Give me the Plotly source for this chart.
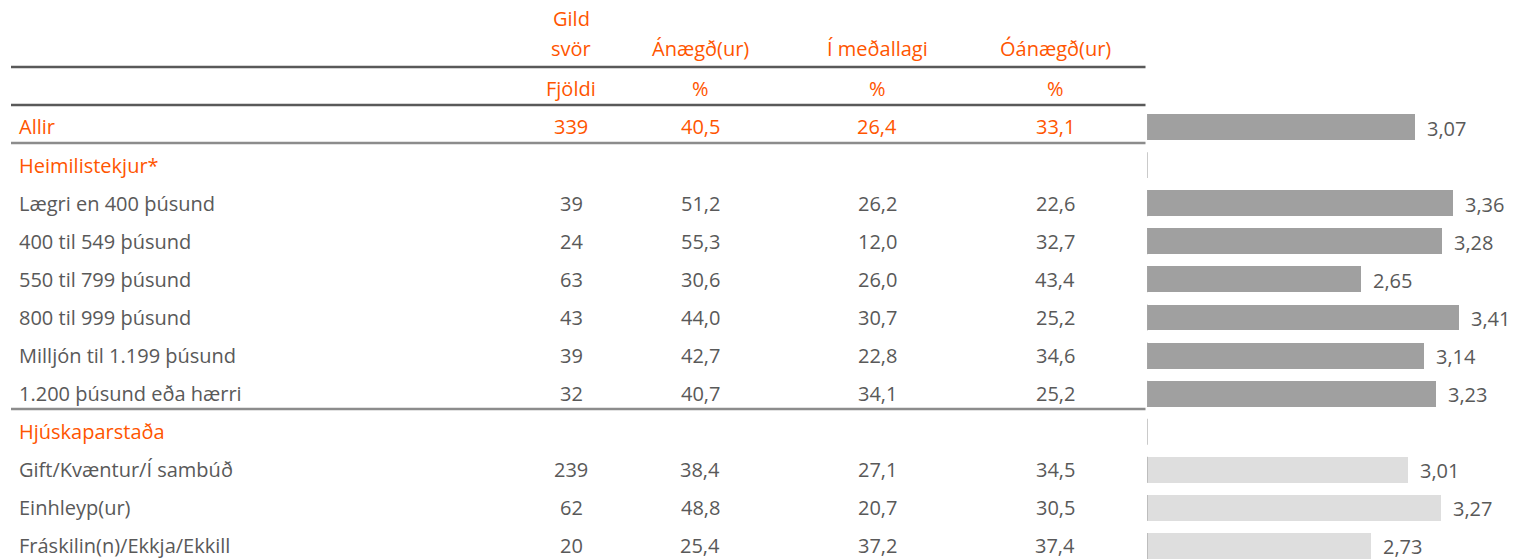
import plotly.graph_objects as go

# ---------------- data ----------------
row_labels = ["Allir", "Heimilistekjur*", "Lægri en 400 þúsund", "400 til 549 þúsund",
              "550 til 799 þúsund", "800 til 999 þúsund", "Milljón til 1.199 þúsund",
              "1.200 þúsund eða hærri", "Hjúskaparstaða", "Gift/Kvæntur/Í sambúð",
              "Einhleyp(ur)", "Fráskilin(n)/Ekkja/Ekkill"]
row_kind = ["total", "group", "item", "item", "item", "item", "item", "item",
            "group", "item2", "item2", "item2"]
fjoldi = [339, None, 39, 24, 63, 43, 39, 32, None, 239, 62, 20]
anaegd = [40.5, None, 51.2, 55.3, 30.6, 44.0, 42.7, 40.7, None, 38.4, 48.8, 25.4]
medal = [26.4, None, 26.2, 12.0, 26.0, 30.7, 22.8, 34.1, None, 27.1, 20.7, 37.2]
oanaegd = [33.1, None, 22.6, 32.7, 43.4, 25.2, 34.6, 25.2, None, 34.5, 30.5, 37.4]
mean_score = [3.07, None, 3.36, 3.28, 2.65, 3.41, 3.14, 3.23, None, 3.01, 3.27, 2.73]

col_head1 = ["Gild", "", "", ""]
col_head2 = ["svör", "Ánægð(ur)", "Í meðallagi", "Óánægð(ur)"]
col_head3 = ["Fjöldi", "%", "%", "%"]

# ---------------- layout constants ----------------
W, H = 1523, 560
ORANGE = "#FF5500"
GRAY_TXT = "#595959"
FONT = "Open Sans"
FS = 20
row0_px = 127.0
pitch = 38.09
col_x_px = [571, 700, 877, 1055]
label_x_px = 17
bar_left_px = 1147
px_per_unit = 129.6


def px(x):
    return x / W


def py(y):
    return 1 - y / H


def fmt1(v):
    return f"{v:.1f}".replace(".", ",")


def fmt2(v):
    return f"{v:.2f}".replace(".", ",")


fig = go.Figure()

# bars
ys, xs, cols = [], [], []
for i, (m, k) in enumerate(zip(mean_score, row_kind)):
    if m is None:
        continue
    ys.append(i)
    xs.append(m)
    cols.append("#DEDEDE" if k == "item2" else "#A0A0A0")

fig.add_trace(go.Bar(x=xs, y=ys, orientation="h", marker=dict(color=cols, line=dict(width=0)),
                     width=0.68, hoverinfo="skip", showlegend=False))

ann = []
# value labels
for i, m in zip(ys, xs):
    ann.append(dict(x=m, y=i, xref="x", yref="y", text=fmt2(m), showarrow=False,
                    xanchor="left", yanchor="middle", xshift=11, yshift=-1,
                    borderpad=0,
                    font=dict(family=FONT, size=FS, color=GRAY_TXT)))

# header texts
for j in range(4):
    for text, ypx in ((col_head1[j], 18), (col_head2[j], 48), (col_head3[j], 88)):
        if text:
            ann.append(dict(x=px(col_x_px[j]), y=py(ypx), xref="paper", yref="paper", text=text,
                            showarrow=False, xanchor="center", yanchor="middle",
                            font=dict(family=FONT, size=FS, color=ORANGE)))

# row texts
for i, lab in enumerate(row_labels):
    ypx = row0_px + i * pitch
    k = row_kind[i]
    color = ORANGE if k in ("total", "group") else GRAY_TXT
    ann.append(dict(x=px(label_x_px), y=py(ypx), xref="paper", yref="paper", text=lab,
                    showarrow=False, xanchor="left", yanchor="middle",
                    font=dict(family=FONT, size=FS, color=color)))
    vals = [fjoldi[i], anaegd[i], medal[i], oanaegd[i]]
    for j, v in enumerate(vals):
        if v is None:
            continue
        t = str(v) if j == 0 else fmt1(v)
        ann.append(dict(x=px(col_x_px[j]), y=py(ypx), xref="paper", yref="paper", text=t,
                        showarrow=False, xanchor="center", yanchor="middle",
                        font=dict(family=FONT, size=FS, color=color)))

shapes = []
for ypx, c in ((67, "#595959"), (105, "#595959"), (143, "#8C8C8C"), (409, "#8C8C8C")):
    shapes.append(dict(type="line", xref="paper", yref="paper", x0=px(11), x1=px(1145.5),
                       y0=py(ypx), y1=py(ypx), line=dict(color=c, width=2.5)))
# thin vertical marks at the start of the bar area for each row
for i in range(len(row_labels)):
    shapes.append(dict(type="line", xref="x", yref="y", x0=1, x1=1, y0=i - 0.34, y1=i + 0.34,
                       line=dict(color="#A6A6A6", width=1.2), layer="above"))

y_top_idx = (107.95 - row0_px) / pitch
y_bot_idx = (H - row0_px) / pitch

fig.update_layout(
    width=W, height=H,
    margin=dict(l=0, r=0, t=0, b=0),
    paper_bgcolor="white", plot_bgcolor="white",
    xaxis=dict(domain=[px(bar_left_px), 1], range=[1, 1 + (W - bar_left_px) / px_per_unit],
               visible=False, fixedrange=True),
    yaxis=dict(domain=[0, py(107.95)], range=[y_bot_idx, y_top_idx], visible=False,
               fixedrange=True),
    annotations=ann,
    shapes=shapes,
    bargap=0,
    font=dict(family=FONT),
)

fig.write_html("out.html", config={"displayModeBar": False},
               post_script="document.body.style.margin='0';document.body.style.overflow='hidden';")
